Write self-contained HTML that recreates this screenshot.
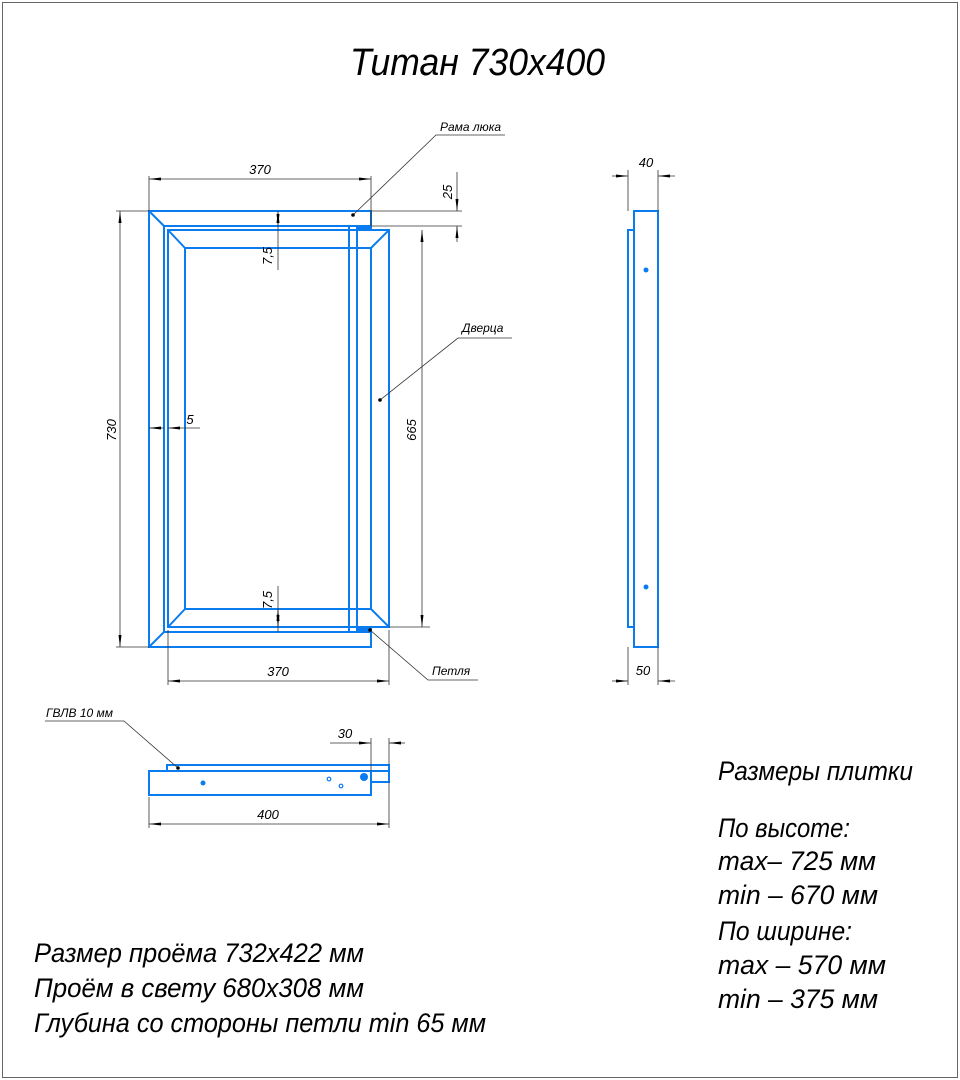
<!DOCTYPE html>
<html><head><meta charset="utf-8"><style>body{margin:0;background:#fff}svg{display:block}</style></head><body>
<svg width="960" height="1080" viewBox="0 0 960 1080" xmlns="http://www.w3.org/2000/svg" font-family="Liberation Sans, sans-serif" font-style="italic">
<defs><marker id="a" markerUnits="userSpaceOnUse" markerWidth="12" markerHeight="6" refX="12" refY="3" orient="auto-start-reverse"><path d="M0,1.5 L12,3 L0,4.5z" fill="#000"/></marker></defs>
<rect x="2.5" y="2.5" width="955" height="1075" fill="none" stroke="#666" stroke-width="1"/>
<text x="350" y="75" font-size="38" textLength="255" lengthAdjust="spacingAndGlyphs">Титан 730x400</text>
<g stroke="#0a7cf0" stroke-width="2" fill="none">
<path d="M149,211 H371 V226 H164 V632 H371 V647 H149 Z"/>
<path d="M149,211 L164,226 M149,647 L164,632"/>
<rect x="168" y="230" width="221" height="397"/>
<rect x="185" y="248" width="186" height="361"/>
<path d="M168,230 L185,248 M389,230 L371,248 M168,627 L185,609 M389,627 L371,609"/>
<rect x="349" y="226" width="8" height="406"/>
<rect x="357" y="226" width="14" height="4" fill="#0a7cf0"/>
<rect x="357" y="627" width="14" height="5" fill="#0a7cf0"/>
<rect x="634" y="211" width="24" height="436"/>
<rect x="628" y="230" width="6" height="397"/>
<rect x="149" y="771" width="222" height="24"/>
<rect x="167" y="765" width="222" height="6"/>
<rect x="371" y="771" width="18" height="11"/>
</g>
<g fill="#0a7cf0"><circle cx="646" cy="270" r="2.5"/><circle cx="646" cy="587" r="2.5"/><circle cx="203" cy="783" r="2.5"/><circle cx="364" cy="777" r="4"/></g>
<g fill="none" stroke="#0a7cf0" stroke-width="1.2"><circle cx="329" cy="779" r="1.8"/><circle cx="341" cy="786" r="1.8"/></g>
<g stroke="#333" stroke-width="0.8" fill="none">
<path d="M149,176 V211 M371,176 V226 M371,211 H462 M371,226 H462 M389,226 H430 M389,627 H430 M116,211 H149 M116,647 H149 M168,630 V685 M389,630 V685 M628,170 V211 M658,170 V211 M628,647 V685 M658,647 V685 M149,797 V828 M389,782 V828 M371,738 V771 M389,738 V765"/>
<path d="M149,179 H371" marker-start="url(#a)" marker-end="url(#a)"/>
<path d="M457,172 V211" marker-end="url(#a)"/><path d="M457,226 V242" marker-start="url(#a)"/>
<path d="M278,211 V226" marker-start="url(#a)" marker-end="url(#a)"/><path d="M278,226 V270"/>
<path d="M278,586 V632" /><path d="M278,609 V627" marker-start="url(#a)" marker-end="url(#a)"/>
<path d="M120,211 V647" marker-start="url(#a)" marker-end="url(#a)"/>
<path d="M422,230 V627" marker-start="url(#a)" marker-end="url(#a)"/>
<path d="M168,681 H389" marker-start="url(#a)" marker-end="url(#a)"/>
<path d="M149,824 H389" marker-start="url(#a)" marker-end="url(#a)"/>
<path d="M612,176 H628" marker-end="url(#a)"/><path d="M658,176 H675" marker-start="url(#a)"/>
<path d="M612,681 H628" marker-end="url(#a)"/><path d="M658,681 H675" marker-start="url(#a)"/>
<path d="M330,743 H371" marker-end="url(#a)"/><path d="M389,743 H405" marker-start="url(#a)"/>
<path d="M149,428 H164" marker-start="url(#a)"/><path d="M168,428 H200" marker-start="url(#a)"/>
<path d="M353,215 L436,135 H505 M380,400 L458,338 H512 M370,630 L428,680 H478 M178,768 L124,721 H45"/>
</g>
<g fill="#000"><circle cx="353" cy="215" r="1.8"/><circle cx="380" cy="400" r="1.8"/><circle cx="178" cy="768" r="1.8"/><circle cx="370" cy="630" r="1.8"/></g>
<g font-size="13" fill="#000">
<text x="260" y="174" text-anchor="middle">370</text>
<text x="278" y="676" text-anchor="middle">370</text>
<text x="268" y="819" text-anchor="middle">400</text>
<text x="345" y="738" text-anchor="middle">30</text>
<text x="646" y="167" text-anchor="middle">40</text>
<text x="643" y="675" text-anchor="middle">50</text>
<text x="190" y="424" text-anchor="middle">5</text>
<text transform="translate(452,192) rotate(-90)" text-anchor="middle">25</text>
<text transform="translate(116,430) rotate(-90)" text-anchor="middle">730</text>
<text transform="translate(416,430) rotate(-90)" text-anchor="middle">665</text>
<text transform="translate(272,256) rotate(-90)" text-anchor="middle">7,5</text>
<text transform="translate(272,600) rotate(-90)" text-anchor="middle">7,5</text>
</g>
<g font-size="12" fill="#000">
<text x="440" y="131">Рама люка</text>
<text x="462" y="332">Дверца</text>
<text x="432" y="675">Петля</text>
<text x="46" y="717">ГВЛВ 10 мм</text>
</g>
<g font-size="27" fill="#000" lengthAdjust="spacingAndGlyphs">
<text x="718" y="780" textLength="195" lengthAdjust="spacingAndGlyphs">Размеры плитки</text>
<text x="718" y="837" textLength="132" lengthAdjust="spacingAndGlyphs">По высоте:</text>
<text x="718" y="870" textLength="158" lengthAdjust="spacingAndGlyphs">max– 725 мм</text>
<text x="718" y="904" textLength="160" lengthAdjust="spacingAndGlyphs">min – 670 мм</text>
<text x="718" y="940" textLength="134" lengthAdjust="spacingAndGlyphs">По ширине:</text>
<text x="718" y="974" textLength="168" lengthAdjust="spacingAndGlyphs">max – 570 мм</text>
<text x="718" y="1008" textLength="160" lengthAdjust="spacingAndGlyphs">min – 375 мм</text>
<text x="34" y="962" textLength="330" lengthAdjust="spacingAndGlyphs">Размер проёма 732x422 мм</text>
<text x="34" y="997" textLength="330" lengthAdjust="spacingAndGlyphs">Проём в свету 680x308 мм</text>
<text x="34" y="1032" textLength="452" lengthAdjust="spacingAndGlyphs">Глубина со стороны петли min 65 мм</text>
</g>
</svg>
</body></html>
